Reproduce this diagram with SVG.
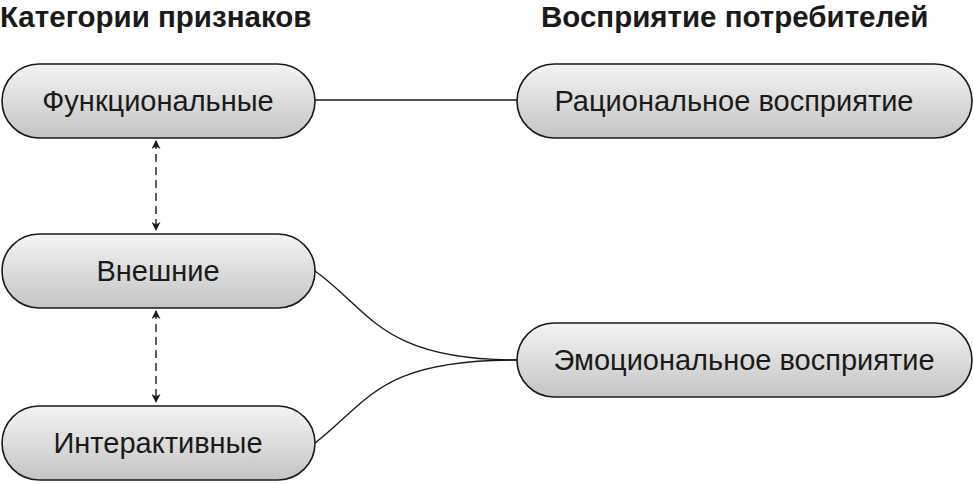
<svg xmlns="http://www.w3.org/2000/svg" width="974" height="484" viewBox="0 0 974 484">
<style>
.n{stroke:#1a1a1a;stroke-width:1.6;fill:url(#g)}
.t{font-family:"Liberation Sans",Arial,sans-serif;font-size:29px;fill:#1a1a1a;text-anchor:middle}
.h{font-family:"Liberation Sans",Arial,sans-serif;font-size:29.5px;font-weight:bold;fill:#1a1a1a}
.c{fill:none;stroke:#1a1a1a;stroke-width:1.4}
.d{stroke-dasharray:8,5;marker-start:url(#a);marker-end:url(#a)}
</style>
<defs>
<linearGradient id="g" x1="0" y1="0" x2="0" y2="1"><stop offset="0" stop-color="#f4f4f4"/><stop offset="1" stop-color="#c4c4c4"/></linearGradient>
<marker id="a" viewBox="0 0 10 10" refX="9" refY="5" markerWidth="9" markerHeight="9" orient="auto-start-reverse" markerUnits="userSpaceOnUse"><path d="M0,0 L10,5 L0,10 L3,5 Z" fill="#1a1a1a"/></marker>
</defs>
<text class="h" x="0" y="27">Категории признаков</text>
<text class="h" x="541" y="27">Восприятие потребителей</text>
<g id="connectors">
<line class="c" x1="315" y1="100" x2="517" y2="100"/>
<path class="c" d="M315,271 C370,310 380,360 517,360"/>
<path class="c" d="M315,443 C370,400 380,360 517,360"/>
<line class="c d" x1="156" y1="141" x2="156" y2="230"/>
<line class="c d" x1="156" y1="311" x2="156" y2="402"/>
</g>
<g id="n1"><rect class="n" x="2" y="64" width="313" height="74" rx="37"/><text class="t" x="158" y="111">Функциональные</text></g>
<g id="n2"><rect class="n" x="2" y="234" width="313" height="74" rx="37"/><text class="t" x="158" y="281">Внешние</text></g>
<g id="n3"><rect class="n" x="2" y="406" width="313" height="74" rx="37"/><text class="t" x="158" y="453">Интерактивные</text></g>
<g id="n4"><rect class="n" x="517" y="64" width="455" height="74" rx="37"/><text class="t" x="734" y="111">Рациональное восприятие</text></g>
<g id="n5"><rect class="n" x="517" y="323" width="455" height="74" rx="37"/><text class="t" x="744" y="370">Эмоциональное восприятие</text></g>
</svg>
